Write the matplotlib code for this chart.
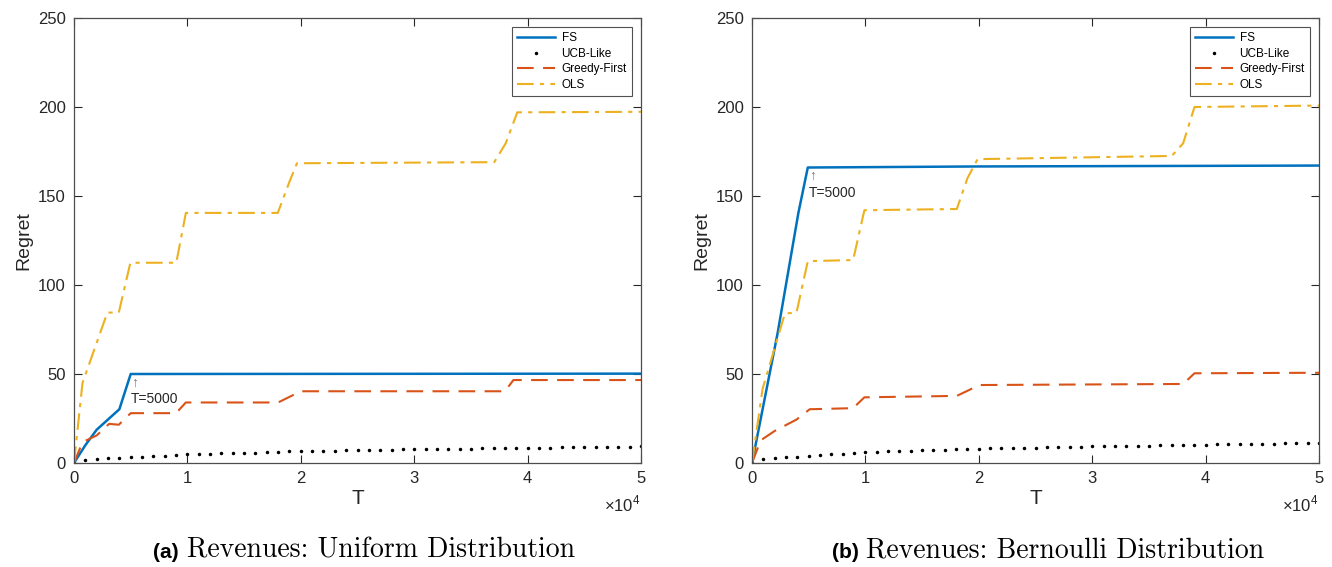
import numpy as np
import matplotlib
matplotlib.use('Agg')
import matplotlib.pyplot as plt
from matplotlib.ticker import FuncFormatter

plt.rcParams['font.family'] = ['Liberation Sans', 'DejaVu Sans']
plt.rcParams['mathtext.fontset'] = 'custom'
plt.rcParams['mathtext.rm'] = 'Liberation Sans'

BLUE = '#0072BD'
ORANGE = '#D95319'
YELLOW = '#EDB120'
AXC = '#262626'

# ---- (a) uniform ----
fs_a_t = [0, 1000, 2000, 4000, 5000, 50000]
fs_a_y = [0, 10, 18.7, 30.2, 50, 50.2]
gf_a_t = [0, 750, 2000, 3100, 3950, 5000, 9000, 9860, 18000, 20000, 38000, 38750, 50000]
gf_a_y = [0, 11.7, 15.5, 22, 21.5, 28, 28, 34, 34, 40.3, 40.3, 46.6, 46.6]
ols_a_t = [0, 750, 2940, 3950, 4970, 9020, 9865, 17970, 19000, 19660, 37060, 38070, 39090, 50000]
ols_a_y = [0, 45, 84.5, 84.5, 112.5, 112.5, 140.5, 140.5, 158, 168.4, 169, 179.6, 197, 197.3]
ucb_a = [0, 1.9, 2.3, 2.7, 3.0, 3.4, 3.6, 3.9, 4.2, 4.6, 5.1, 5.2, 5.3, 5.4, 5.6, 5.7, 5.8,
         6.0, 6.2, 6.5, 6.7, 6.8, 6.9, 7.0, 7.1, 7.2, 7.3, 7.4, 7.5, 7.7, 7.8, 7.9, 7.9,
         8.0, 8.1, 8.1, 8.2, 8.3, 8.4, 8.5, 8.6, 8.7, 8.7, 8.8, 8.9, 8.9, 9.0, 9.1, 9.1,
         9.2, 9.3]

# ---- (b) bernoulli ----
fs_b_t = [0, 2260, 4090, 4920, 20000, 50000]
fs_b_y = [0, 73, 140.5, 166, 166.6, 167.1]
gf_b_t = [0, 765, 2000, 3925, 5090, 8915, 9910, 18060, 20060, 38020, 39020, 50000]
gf_b_y = [0, 12.7, 18, 24.4, 30.2, 30.8, 36.9, 37.7, 43.8, 44.4, 50.4, 50.7]
ols_b_t = [0, 930, 2900, 3925, 4920, 8915, 9910, 18060, 19000, 19890, 37020, 38020, 39020, 50000]
ols_b_y = [0, 41.6, 84, 84.5, 113.4, 114, 142, 142.7, 160, 170.7, 172.5, 179.6, 200, 200.8]
ucb_b = [0, 2.0, 2.6, 3.1, 3.6, 4.1, 4.5, 4.9, 5.3, 5.7, 6.2, 6.4, 6.6, 6.8, 7.0, 7.1, 7.3,
         7.5, 7.7, 7.9, 8.0, 8.2, 8.3, 8.4, 8.6, 8.7, 8.8, 8.9, 9.0, 9.2, 9.3, 9.4, 9.5,
         9.6, 9.7, 9.8, 9.9, 10.0, 10.1, 10.2, 10.3, 10.4, 10.5, 10.6, 10.7, 10.8, 10.9,
         11.0, 11.0, 11.1, 11.2]
ucb_t = np.arange(0, 50001, 1000)

panels = [
    ('(a)', 'Revenues: Uniform Distribution', fs_a_t, fs_a_y, gf_a_t, gf_a_y,
     ols_a_t, ols_a_y, ucb_a, 50),
    ('(b)', 'Revenues: Bernoulli Distribution', fs_b_t, fs_b_y, gf_b_t, gf_b_y,
     ols_b_t, ols_b_y, ucb_b, 166),
]

fig = plt.figure(figsize=(13.32, 5.67), dpi=100)
lefts = [74 / 1332, 752 / 1332]
tag_x = [153 / 1332, 832 / 1332]

for left, tx, p in zip(lefts, tag_x, panels):
    tag, cap, ft, fy, gt, gy, ot, oy, uy, fs5000 = p
    ax = fig.add_axes([left, 1 - 463 / 567, 567 / 1332, 445 / 567])
    ax.plot(ft, fy, color=BLUE, lw=1.8, label='FS')
    ax.plot(ucb_t, uy, ls='none', marker='.', ms=3, color='black', label='UCB-Like')
    ax.plot(gt, gy, color=ORANGE, lw=1.5, dashes=(8, 4.5), label='Greedy-First')
    ax.plot(ot, oy, color=YELLOW, lw=1.5, dashes=(8, 3, 2, 3), label='OLS')

    ax.set_xlim(0, 50000)
    ax.set_ylim(0, 250)
    ax.set_xticks(np.arange(0, 50001, 10000))
    ax.set_yticks(np.arange(0, 251, 50))
    ax.xaxis.set_major_formatter(FuncFormatter(lambda v, pos: '%d' % round(v / 1e4)))
    ax.tick_params(direction='in', top=True, right=True, length=6, width=0.8,
                   labelsize=12, colors=AXC, pad=6)
    for s in ax.spines.values():
        s.set_color('#4d4d4d')
        s.set_linewidth(0.9)
    ax.set_xlabel('T', fontsize=15, color=AXC, labelpad=2)
    ax.set_ylabel('Regret', fontsize=14, color=AXC, labelpad=4)
    ax.text(1.0, -0.07, r'$\times10^{4}$', transform=ax.transAxes, ha='right',
            va='top', fontsize=12, color=AXC)

    ax.annotate('\u2191', (5000, fs5000), xytext=(0, -1), textcoords='offset points',
                ha='left', va='top', fontsize=10, color='#777777')
    ax.annotate('T=5000', (5000, fs5000), xytext=(0, -13), textcoords='offset points',
                ha='left', va='top', fontsize=10, color=AXC)

    leg = ax.legend(loc='upper right', fontsize=8.5, frameon=True, fancybox=False,
                    edgecolor=AXC, handlelength=3.2, borderpad=0.4, labelspacing=0.3,
                    borderaxespad=0.8, handletextpad=0.6)
    leg.get_frame().set_linewidth(0.8)

    fig.text(tx, 0.016, tag, fontsize=15, weight='bold',
             ha='left', va='baseline', color='black')
    fig.text(tx + 34 / 1332, 0.016, cap, family='cmr10', fontsize=20,
             ha='left', va='baseline', color='black')

fig.savefig('out.png', dpi=100)
